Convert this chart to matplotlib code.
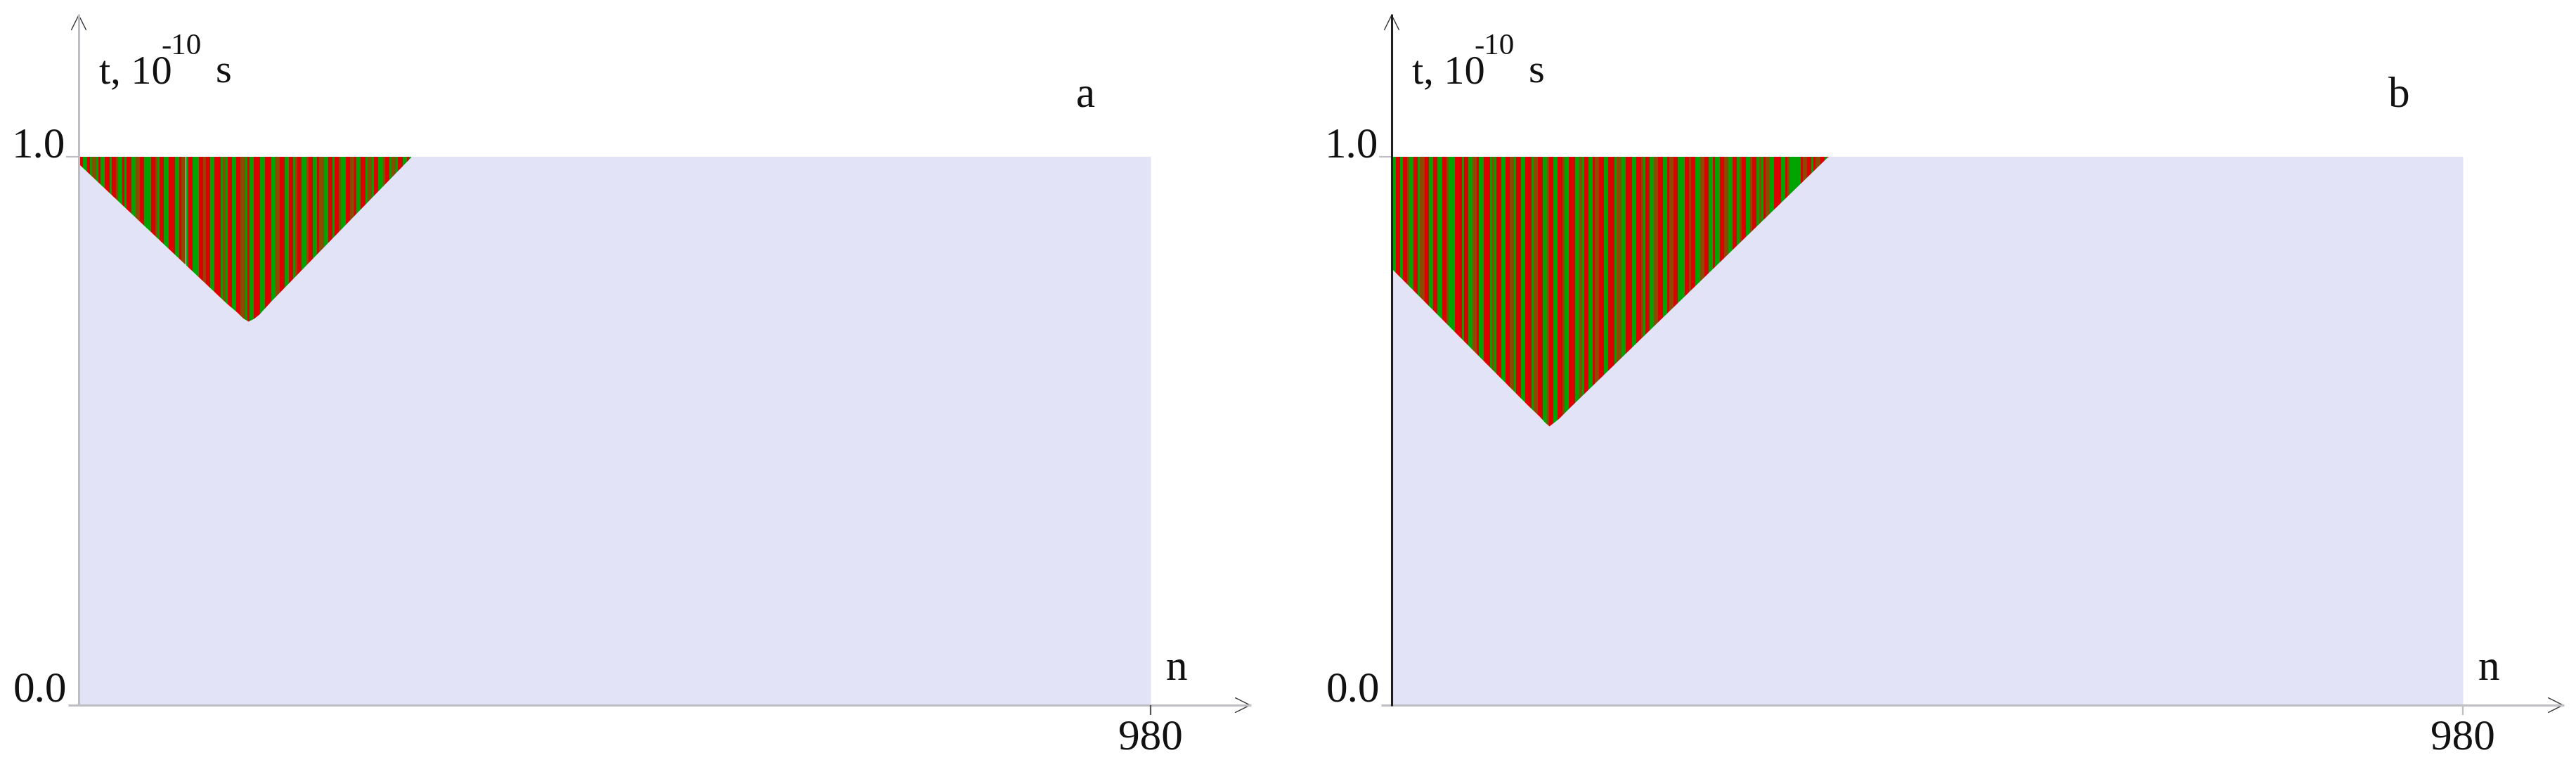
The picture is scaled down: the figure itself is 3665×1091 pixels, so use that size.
import matplotlib; matplotlib.use("Agg")
import matplotlib.pyplot as plt
import numpy as np
from matplotlib.lines import Line2D

W, H = 3666, 1091
plt.rcParams["font.family"] = ["Liberation Serif", "DejaVu Serif"]

RED, GREEN, BROWN = "#DC0000", "#00A400", "#8C4A00"
LAV = "#E3E3F7"
GREY, DARK = "#BEBEC4", "#1E1E1E"
CMAP = {"r": RED, "g": GREEN, "b": BROWN}

N_MAX = 980
T_MAX = 1.0
STEP = 2  # n-units per stripe character
Y_TICKS = ["0.0", "1.0"]
X_TICK = "980"
PANEL_TAGS = ["a", "b"]

# stripe colours along n (one char per STEP)
STRIPES_A = ("rrggrgbbgr" "ggrrgrrbgg" "rgrrggbbrr" "gggrrbgrrg" "grrrggrbbg"
             "rrgggrrbrr" "ggrrrgbgrr" "ggrrbbgrgg" "rrrggrrrgg" "bbrrggrrgb"
             "rrggbrrggr" "bbggrrgrrb" "ggrrbbrggr" "rgbbgrrggb" "rrgbbgrrgg" "rg")
STRIPES_B = ("ggrrgrrbgg" "rrgbbrrggr" "rggrrbgggr" "rrgrrggbbr" "ggrrrgbgrr"
             "ggrrbbgrrg" "grrrgbbrrg" "gbrrggrrbg" "grrrggbgrr" "ggrbbrrggr"
             "rrgbbggrrr" "ggrrbgrrgg" "bbrrggrbbr" "rgggrrbrrg" "gbbrrggrgg"
             "rrbbggrrgb" "rrggbrrgbg" "rbbggrrrgg" "rbgggggrbb" "rrgrbbrrgr")

# lower edge of the striped region
EDGE_N_A = [0, 135, 145, 150, 155, 160, 165, 175, 304]
EDGE_T_A = [0.987, 0.733, 0.716, 0.706, 0.700, 0.705, 0.713, 0.735, 1.0]
EDGE_N_B = [0, 125, 135, 140, 144, 148, 153, 163, 399]
EDGE_T_B = [0.796, 0.546, 0.527, 0.516, 0.509, 0.515, 0.523, 0.543, 1.0]

fig = plt.figure(figsize=(W / 100, H / 100), dpi=100)

def F(x, y):  # image pixels (top-left origin) -> figure fraction
    return x / W, 1 - y / H

def line(xs, ys, color, lw):
    fig.add_artist(Line2D([x / W for x in xs], [1 - y / H for y in ys],
                          transform=fig.transFigure, color=color, lw=lw,
                          solid_capstyle="butt"))

def arrow(tip, tail, ax):
    ax.annotate("", xy=F(*tip), xytext=F(*tail), xycoords="figure fraction",
                annotation_clip=False,
                arrowprops=dict(arrowstyle="->,head_length=1.5,head_width=0.75",
                                color="#333333", lw=1.0, shrinkA=0, shrinkB=0,
                                mutation_scale=10))

def txt(x, y, s, size=44, ha="left"):
    fig.text(*F(x, y), s, fontsize=size, ha=ha, va="baseline", color="#111111")

# layout in image pixels: y-axis x, x at n=980, x-axis arrow tip, y-axis colour, 980 tick colour
layout = [(112, 1637, 1780, GREY, "#555555"), (1980, 3504, 3648, DARK, GREY)]
Y0, Y1, YTIP = 1003, 223, 20

for (x0, x1, xtip, ycol, tcol), stripes, en, et, tag in zip(
        layout, [STRIPES_A, STRIPES_B], [EDGE_N_A, EDGE_N_B], [EDGE_T_A, EDGE_T_B], PANEL_TAGS):
    ax = fig.add_axes([x0 / W, (H - Y0) / H, (x1 - x0) / W, (Y0 - Y1) / H])
    ax.set_facecolor(LAV)
    pos = np.arange(len(stripes)) * STEP
    ax.bar(pos, [T_MAX] * len(stripes), width=STEP, align="edge",
           color=[CMAP[c] for c in stripes], linewidth=0, zorder=1)
    ax.fill_between(en + [N_MAX], 0, et + [T_MAX], color=LAV, lw=0, zorder=2)
    ax.set_xlim(0, N_MAX); ax.set_ylim(0, T_MAX)
    ax.set_xticks([]); ax.set_yticks([])
    for s in ax.spines.values():
        s.set_visible(False)

    # axes, ticks, arrows
    line([x0 - 15, xtip], [Y0, Y0], GREY, 2.2)
    line([x0 - 18, x0], [Y1, Y1], GREY, 1.6)
    line([x1, x1], [Y0, Y0 + 14], tcol, 1.6)
    line([x0, x0], [Y0 + 1, YTIP], ycol, 2.2)
    arrow((xtip, Y0), (xtip - 6, Y0), ax)
    arrow((x0, YTIP), (x0, YTIP + 6), ax)

    # labels
    txt(x0 - 17, 997, Y_TICKS[0], ha="right")
    txt(x0 - 19, 224, Y_TICKS[1], ha="right")
    txt(x1, 1066, X_TICK, ha="center")
    txt(x1 + 22, 967, "n")
    txt(x0 + 29, 118, "t, 10", size=42)
    txt(x0 + 117, 77, "-10", size=31)
    txt(x0 + 195, 118, "s", size=42)
    txt(x1 - 106, 152, tag)

fig.savefig("out.png", dpi=100)
